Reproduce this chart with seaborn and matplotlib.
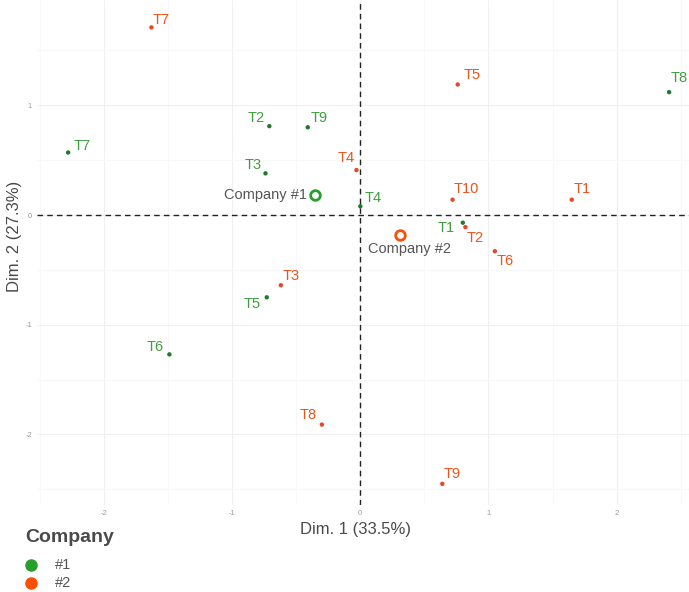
import numpy as np
import pandas as pd
import matplotlib
matplotlib.use("Agg")
import matplotlib.pyplot as plt
from matplotlib.lines import Line2D
import seaborn as sns

# Individual coordinates on the first two dimensions, per company
c1_labels = ["T1", "T2", "T3", "T4", "T5", "T6", "T7", "T8", "T9"]
c1_dim1 = [0.80, -0.71, -0.74, 0.00, -0.73, -1.49, -2.28, 2.41, -0.41]
c1_dim2 = [-0.07, 0.81, 0.38, 0.08, -0.75, -1.27, 0.57, 1.12, 0.80]

c2_labels = ["T1", "T2", "T3", "T4", "T5", "T6", "T7", "T8", "T9", "T10"]
c2_dim1 = [1.65, 0.82, -0.62, -0.03, 0.76, 1.05, -1.63, -0.30, 0.64, 0.72]
c2_dim2 = [0.14, -0.11, -0.64, 0.41, 1.19, -0.33, 1.71, -1.91, -2.45, 0.14]

groups = ["#1", "#2"]
dim1_pct = 33.5
dim2_pct = 27.3

df = pd.concat([
    pd.DataFrame({"label": c1_labels, "Dim1": c1_dim1, "Dim2": c1_dim2, "Company": "#1"}),
    pd.DataFrame({"label": c2_labels, "Dim1": c2_dim1, "Dim2": c2_dim2, "Company": "#2"}),
], ignore_index=True)
centers = df.groupby("Company")[["Dim1", "Dim2"]].mean()

palette = {"#1": "#2a9d2f", "#2": "#fc4e07"}
point_col = {"#1": "#1f7a2a", "#2": "#e8452a"}
text_col = {"#1": "#3e9e3e", "#2": "#f0521a"}

# label offsets in points (dx, dy, ha) to keep labels clear of each other
offs = {
    ("#1", "T1"): (-6, -4, "right"), ("#1", "T2"): (-3, 6, "right"),
    ("#1", "T3"): (-3, 6, "right"), ("#1", "T4"): (3, 6, "left"),
    ("#1", "T5"): (-4, -5, "right"), ("#1", "T6"): (-4, 5, "right"),
    ("#1", "T7"): (4, 5, "left"), ("#1", "T8"): (1, 10, "left"),
    ("#1", "T9"): (2, 7, "left"),
    ("#2", "T1"): (1, 8, "left"), ("#2", "T2"): (1, -8, "left"),
    ("#2", "T3"): (1, 7, "left"), ("#2", "T4"): (-1, 9, "right"),
    ("#2", "T5"): (4, 7, "left"), ("#2", "T6"): (1, -7, "left"),
    ("#2", "T7"): (1, 5, "left"), ("#2", "T8"): (-4, 7, "right"),
    ("#2", "T9"): (1, 7, "left"), ("#2", "T10"): (1, 8, "left"),
}

sns.set_theme(style="white")
plt.rcParams["font.family"] = ["Liberation Sans", "DejaVu Sans"]
plt.rcParams["axes.unicode_minus"] = False

fig = plt.figure(figsize=(6.89, 5.92), dpi=100)
W, H = 689, 592
ax = fig.add_axes([37 / W, (H - 505) / H, (689 - 37) / W, 505 / H])

# faint major / minor grid
for v in np.arange(-2.5, 2.6, 0.5):
    c = "#f0f0f0" if float(v).is_integer() else "#f8f8f8"
    ax.axvline(v, color=c, lw=0.8, zorder=0)
for v in np.arange(-2.5, 2.0, 0.5):
    c = "#f0f0f0" if float(v).is_integer() else "#f8f8f8"
    ax.axhline(v, color=c, lw=0.8, zorder=0)

ax.axhline(0, color="#222222", lw=1.0, ls=(0, (4, 3)), zorder=1)
ax.axvline(0, color="#222222", lw=1.0, ls=(0, (4, 3)), zorder=1)

sns.scatterplot(data=df, x="Dim1", y="Dim2", hue="Company", palette=point_col,
                s=10, linewidth=0, legend=False, ax=ax, zorder=3)

for _, r in df.iterrows():
    dx, dy, ha = offs[(r["Company"], r["label"])]
    ax.annotate(r["label"], (r["Dim1"], r["Dim2"]), xytext=(dx, dy),
                textcoords="offset points", ha=ha, va="center",
                fontsize=10.5, color=text_col[r["Company"]], zorder=4)

# company centres (mean of each group's individuals)
for g in groups:
    cx, cy = centers.loc[g, "Dim1"], centers.loc[g, "Dim2"]
    ax.scatter([cx], [cy], s=48, facecolor="white", edgecolor=palette[g],
               linewidth=2.0, zorder=5)

cx, cy = centers.loc["#1"]
ax.annotate("Company #1", (cx, cy), xytext=(-6, 0), textcoords="offset points",
            ha="right", va="center", fontsize=10.5, color="#555555", zorder=4)
cx, cy = centers.loc["#2"]
ax.annotate("Company #2", (cx, cy), xytext=(-23, -10), textcoords="offset points",
            ha="left", va="center", fontsize=10.5, color="#555555", zorder=4)

ax.set_xlim(-2.523, 2.565)
ax.set_ylim(-2.643, 1.960)
ax.set_xticks([-2, -1, 0, 1, 2])
ax.set_yticks([-2, -1, 0, 1])
ax.tick_params(axis="both", labelsize=5.5, labelcolor="#9a9a9a", length=2,
               width=0.6, color="#9a9a9a", pad=1.5)
for s in ax.spines.values():
    s.set_visible(False)
ax.set_xlabel(f"Dim. 1 ({dim1_pct}%)", fontsize=12, color="#4a4a4a")
ax.set_ylabel(f"Dim. 2 ({dim2_pct}%)", fontsize=12, color="#4a4a4a")
ax.xaxis.set_label_coords((356 - 37) / 652, (505 - 522) / 505)
ax.yaxis.set_label_coords((22 - 37) / 652, (505 - 236) / 505)

# legend, drawn below the panel on the left
fig.text(25 / W, 1 - 538 / H, "Company", fontsize=14, fontweight="bold",
         color="#4a4a4a", ha="left", va="center")
for i, g in enumerate(groups):
    yy = 1 - (565 + 18 * i) / H
    fig.add_artist(Line2D([31 / W], [yy], marker="o", ls="", markersize=8,
                          markerfacecolor=palette[g], markeredgecolor=palette[g],
                          transform=fig.transFigure))
    fig.text(55 / W, yy, g, fontsize=10.5, color="#555555", ha="left", va="center")

fig.savefig("out.png", dpi=100)
